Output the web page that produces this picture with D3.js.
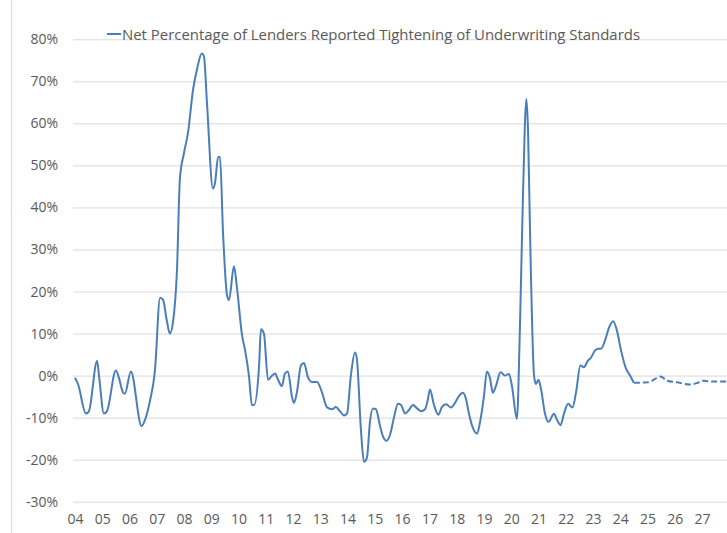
<!DOCTYPE html>
<html>
<head>
<meta charset="utf-8">
<script src="https://cdn.jsdelivr.net/npm/d3@7"></script>
<style>
  body { margin: 0; background: #fff; }
  svg text { font-family: "Open Sans", "Noto Sans", sans-serif; }
</style>
</head>
<body>
<div id="chart"></div>
<script>
// survey series, decimal year vs. net % tightening
var dates = [2004.00,2004.11,2004.40,2004.51,2004.81,2004.88,2005.06,2005.17,2005.50,2005.61,2005.76,2005.83,
  2006.05,2006.44,2006.57,2006.75,2006.93,2007.12,2007.23,2007.37,2007.48,2007.60,2007.74,2007.85,2008.00,
  2008.15,2008.33,2008.48,2008.65,2008.73,2008.84,2009.06,2009.14,2009.25,2009.32,2009.43,2009.58,2009.65,
  2009.83,2009.94,2010.13,2010.24,2010.38,2010.49,2010.57,2010.75,2010.82,2010.93,2011.08,2011.23,2011.34,
  2011.45,2011.59,2011.70,2011.81,2011.96,2012.03,2012.14,2012.29,2012.40,2012.55,2012.69,2012.88,2013.06,
  2013.24,2013.43,2013.57,2013.72,2013.87,2013.98,2014.12,2014.27,2014.34,2014.49,2014.60,2014.71,2014.82,
  2014.93,2015.04,2015.19,2015.30,2015.43,2015.56,2015.70,2015.85,2015.96,2016.11,2016.25,2016.40,2016.55,
  2016.69,2016.84,2016.95,2017.02,2017.17,2017.33,2017.46,2017.61,2017.79,2017.94,2018.09,2018.23,2018.34,
  2018.45,2018.60,2018.75,2018.86,2019.00,2019.11,2019.22,2019.33,2019.44,2019.61,2019.77,2019.92,2020.03,
  2020.21,2020.32,2020.43,2020.56,2020.62,2020.69,2020.84,2020.91,2021.00,2021.09,2021.24,2021.37,2021.57,
  2021.68,2021.81,2021.94,2022.09,2022.25,2022.38,2022.54,2022.67,2022.81,2022.93,2023.08,2023.19,2023.30,
  2023.44,2023.59,2023.74,2023.88,2024.03,2024.21,2024.36,2024.50];
var values = [-0.5,-2,-9,-8.5,3.5,0,-9,-8.5,1.2,-0.5,-4,-4.3,
  1,-12,-10.5,-6,1,18.5,18,13,10,13,25,47,53,
  58,68,73,76.6,76,65,44.5,46,52,52,34,19,18,
  26,21,9.5,6,0,-7,-7,2,11,10,-1,0,0.5,
  -1,-2.5,0.5,1,-5,-6.5,-4,2.5,3,-0.5,-1.5,-1.5,-4,
  -7.5,-8,-7.5,-8.5,-9.5,-9,0,5.5,4,-13,-20.5,-19.5,-11,
  -7.8,-8,-12,-14.5,-15.5,-14,-10,-6.7,-7,-9,-8.2,-7,-7.8,
  -8.5,-8,-5.5,-3.3,-7,-9.3,-7.5,-6.8,-7.6,-6.5,-4.8,-4.1,-5.5,
  -9,-12.5,-13.8,-11,-5,1,-0.5,-4.1,-2.5,0.8,0,0.4,-2.5,
  -10.3,11,42,65.8,58,35,0,-2,-1,-3,-9,-11,-9.1,
  -10.5,-11.8,-9,-6.7,-7.6,-4,2.4,2,3.5,4.3,6,6.4,6.4,
  8.3,11.4,12.9,10.7,6,1.7,0,-1.7];

// forecast (dashed)
var fcDates = [2024.50,2025.02,2025.28,2025.48,2025.71,2026.07,2026.56,2026.81,2027.05,2027.29,2027.92];
var fcValues = [-1.7,-1.6,-0.8,-0.2,-1.2,-1.6,-2.1,-1.8,-1.2,-1.4,-1.4];

var years = d3.range(2004, 2028);
var yTicks = d3.range(-0.3, 0.81, 0.1);
var seriesName = "Net Percentage of Lenders Reported Tightening of Underwriting Standards";

var width = 727, height = 533;
var lineColor = "#4a7ebb", gridColor = "#d9d9d9", textColor = "#595959";

var svg = d3.select("#chart").append("svg")
    .attr("width", width)
    .attr("height", height);

var x = d3.scaleLinear().domain([2004, 2028]).range([75, 75 + 24 * 27.26]);
var y = d3.scaleLinear().domain([-0.3, 0.8]).range([501.7, 39.3]);

// left border of plot frame
svg.append("line")
    .attr("x1", 11.5).attr("x2", 11.5)
    .attr("y1", 0).attr("y2", height)
    .attr("stroke", gridColor).attr("stroke-width", 1);

// y axis + gridlines
var yAxis = svg.append("g")
    .attr("transform", "translate(73,0)")
    .call(d3.axisLeft(y)
        .tickValues(yTicks)
        .tickSize(-(width - 73))
        .tickPadding(15)
        .tickFormat(function(d){ return Math.round(d * 100) + "%"; }));
yAxis.select(".domain").remove();
yAxis.selectAll(".tick line").attr("stroke", gridColor).attr("stroke-width", 1);
yAxis.selectAll(".tick text")
    .attr("fill", textColor)
    .style("font-size", "14px");

// x axis labels
var xAxis = svg.append("g")
    .attr("transform", "translate(0,510)")
    .call(d3.axisBottom(x)
        .tickValues(years)
        .tickSize(0)
        .tickPadding(4)
        .tickFormat(function(d){ return String(d).slice(2); }));
xAxis.select(".domain").remove();
xAxis.selectAll(".tick text")
    .attr("fill", textColor)
    .style("font-size", "14px");

// lines
var line = d3.line()
    .x(function(d){ return x(d[0]); })
    .y(function(d){ return y(d[1] / 100); })
    .curve(d3.curveMonotoneX);

svg.append("path")
    .datum(d3.zip(dates, values))
    .attr("d", line)
    .attr("fill", "none")
    .attr("stroke", lineColor)
    .attr("stroke-width", 2)
    .attr("stroke-linejoin", "round");

svg.append("path")
    .datum(d3.zip(fcDates, fcValues))
    .attr("d", line)
    .attr("fill", "none")
    .attr("stroke", lineColor)
    .attr("stroke-width", 2)
    .attr("stroke-dasharray", "6,3");

// legend
var legend = svg.append("g").attr("transform", "translate(107,34)");
legend.append("line")
    .attr("x1", 0).attr("x2", 14)
    .attr("y1", 0).attr("y2", 0)
    .attr("stroke", lineColor).attr("stroke-width", 2);
legend.append("text")
    .attr("x", 15)
    .attr("y", 6)
    .attr("fill", textColor)
    .attr("textLength", 518)
    .attr("lengthAdjust", "spacingAndGlyphs")
    .style("font-size", "15px")
    .text(seriesName);
</script>
</body>
</html>
